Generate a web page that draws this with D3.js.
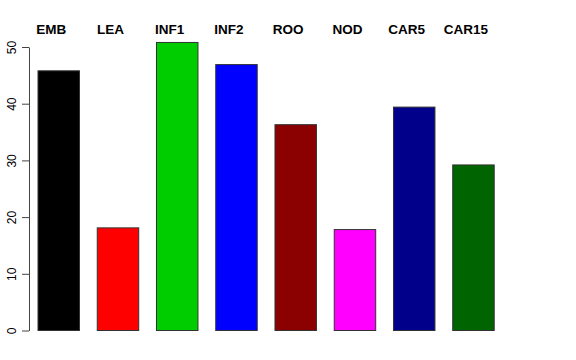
<!DOCTYPE html>
<html>
<head>
<meta charset="utf-8">
<script src="https://cdn.jsdelivr.net/npm/d3@7"></script>
<style>
  body { margin: 0; background: #fff; }
  text { font-family: "Liberation Sans", Arial, sans-serif; }
</style>
</head>
<body>
<svg id="chart" width="576" height="360"></svg>
<script>
// Dados do gráfico.
const categorias = ["EMB", "LEA", "INF1", "INF2", "ROO", "NOD", "CAR5", "CAR15"];
const valores = [45.8, 18.1, 50.8, 46.9, 36.3, 17.8, 39.4, 29.2];
const cores = ["#000000", "#FF0000", "#00CD00", "#0000FF", "#8B0000", "#FF00FF", "#00008B", "#006400"];
const ticksY = [0, 10, 20, 30, 40, 50];

const svg = d3.select("#chart");

var x = d3.scaleBand()
    .domain(categorias)
    .range([38, 494.2])
    .paddingInner(0.3)
    .paddingOuter(0);

var y = d3.scaleLinear()
    .domain([0, 50])
    .range([330.5, 47]);

// Barras.
svg.selectAll(".bar")
    .data(categorias)
    .enter()
    .append("rect")
    .attr("class", "bar")
    .attr("x", d => x(d))
    .attr("y", (d, i) => y(valores[i]))
    .attr("width", x.bandwidth())
    .attr("height", (d, i) => y(0) - y(valores[i]))
    .attr("fill", (d, i) => cores[i])
    .attr("stroke", "#333")
    .attr("stroke-width", 1);

// Eixo Y no estilo do R.
const eixo = svg.append("g")
    .attr("transform", "translate(29,0)")
    .call(d3.axisLeft(y).tickValues(ticksY).tickSize(7).tickPadding(6).tickSizeOuter(0));

eixo.select(".domain").attr("stroke", "#444");
eixo.selectAll(".tick line").attr("stroke", "#444");
// Cada tick já está transladado; o texto gira em torno da própria posição.
eixo.selectAll(".tick text")
    .attr("font-size", 12)
    .attr("fill", "#000")
    .attr("text-anchor", "middle")
    .attr("transform", "rotate(-90)")
    .attr("x", 0)
    .attr("y", -13)
    .attr("dy", 0);

// Rótulos no topo.
svg.selectAll(".rotulo")
    .data(categorias)
    .enter()
    .append("text")
    .attr("class", "rotulo")
    .attr("x", d => x(d) + x.bandwidth() / 2 - 7.5)
    .attr("y", 34)
    .attr("text-anchor", "middle")
    .attr("font-size", 13.5)
    .attr("font-weight", "bold")
    .text(d => d);
</script>
</body>
</html>
